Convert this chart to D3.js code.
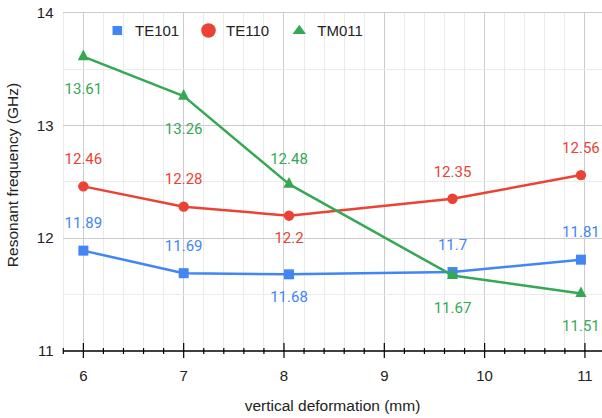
<!DOCTYPE html>
<html><head><meta charset="utf-8">
<script src="https://cdn.jsdelivr.net/npm/d3@7"></script>
<style>body{margin:0;background:#fff}svg{display:block}</style>
</head><body>
<svg id="c" width="602" height="418"></svg>
<script>
const xValues = [6, 7, 8.05, 9.68, 10.96];
const seriesNames = ["TE101", "TE110", "TM011"];
const te101 = [11.89, 11.69, 11.68, 11.70, 11.81];
const te110 = [12.46, 12.28, 12.20, 12.35, 12.56];
const tm011 = [13.61, 13.26, 12.48, 11.67, 11.51];
const xTicks = [6, 7, 8, 9, 10, 11];
const yTicks = [11, 12, 13, 14];
const xTitle = "vertical deformation (mm)";
const yTitle = "Resonant frequency (GHz)";
// label placement (above / below the point)
const labelPlace = [
  ["a","a","b","a","a"],
  ["a","a","b","a","a"],
  ["b","b","a","b","b"]
];
const colors = ["#4285F4", "#EA4335", "#34A853"];
const shapes = ["square", "circle", "triangle"];
const seriesVals = [te101, te110, tm011];

const svg = d3.select("#c");
const x = d3.scaleLinear().domain([5.8, 11.2]).range([63.3, 605]);
const y = d3.scaleLinear().domain([11, 14]).range([351, 12.7]);
const axisFont = "'Liberation Sans', Arial, sans-serif";
const dataFont = "Roboto, 'Noto Sans', sans-serif";

// grid
const minorX = d3.range(58, 113, 2).map(v => v / 10);
const g = svg.append("g");
g.selectAll("line.vx").data(minorX).join("line")
  .attr("x1", d => x(d)).attr("x2", d => x(d)).attr("y1", y(14)).attr("y2", y(11))
  .attr("stroke", d => Math.abs(d - Math.round(d)) < 1e-6 ? "#cccccc" : "#ebebeb").attr("stroke-width", 1)
  .attr("shape-rendering", "crispEdges");
const hY = d3.range(11.5, 14.01, 0.5);
g.selectAll("line.hy").data(hY).join("line")
  .attr("x1", x(5.8)).attr("x2", 602).attr("y1", d => y(d)).attr("y2", d => y(d))
  .attr("stroke", d => Math.abs(d - Math.round(d)) < 1e-6 ? "#cccccc" : "#ebebeb").attr("stroke-width", 1)
  .attr("shape-rendering", "crispEdges");

// x axis
const ax = svg.append("g").attr("transform", `translate(0,${y(11)})`);
ax.append("line").attr("x1", x(5.8)).attr("x2", 602).attr("stroke", "#000").attr("stroke-width", 1.3);
ax.selectAll("line.t").data(minorX).join("line")
  .attr("x1", d => x(d)).attr("x2", d => x(d))
  .attr("y1", d => Math.abs(d - Math.round(d)) < 1e-6 ? -8 : -3)
  .attr("y2", d => Math.abs(d - Math.round(d)) < 1e-6 ? 7 : 3)
  .attr("stroke", "#000").attr("stroke-width", 1.2);
ax.selectAll("text").data(xTicks).join("text")
  .attr("x", d => x(d)).attr("y", 24.5).attr("dy", "0.35em")
  .attr("text-anchor", "middle").attr("font-family", axisFont).attr("font-size", 15).attr("fill", "#222")
  .text(d => d);

// y tick labels
svg.append("g").selectAll("text").data(yTicks).join("text")
  .attr("x", 53.5).attr("y", d => y(d)).attr("dy", "0.35em")
  .attr("text-anchor", "end").attr("font-family", axisFont).attr("font-size", 15).attr("fill", "#222")
  .text(d => d);

// titles
svg.append("text").attr("x", 332.5).attr("y", 406).attr("dy", "0.35em").attr("text-anchor", "middle")
  .attr("font-family", axisFont).attr("font-size", 15.5).attr("fill", "#222").text(xTitle);
svg.append("text").attr("transform", `translate(12.5,175) rotate(-90)`).attr("dy", "0.35em")
  .attr("text-anchor", "middle").attr("font-family", axisFont).attr("font-size", 15.5).attr("fill", "#222").text(yTitle);

function markerPath(shape, s) {
  if (shape === "square") return `M${-5*s},${-5*s}h${10*s}v${10*s}h${-10*s}Z`;
  if (shape === "circle") return d3.symbol(d3.symbolCircle, Math.PI * 5.2 * 5.2 * s * s)();
  return `M0,${-7.1*s}L${5.6*s},${3.6*s}L${-5.6*s},${3.6*s}Z`;
}

// series
const line = d3.line().x(d => x(d[0])).y(d => y(d[1]));
seriesVals.forEach((vals, i) => {
  const pts = xValues.map((xv, j) => [xv, vals[j]]);
  svg.append("path").datum(pts).attr("d", line).attr("fill", "none")
    .attr("stroke", colors[i]).attr("stroke-width", 2.5).attr("stroke-linejoin", "round");
  svg.append("g").selectAll("path").data(pts).join("path")
    .attr("transform", d => `translate(${x(d[0])},${y(d[1])})`)
    .attr("d", markerPath(shapes[i], 1)).attr("fill", colors[i]);
});
// data labels
const aboveOff = {square: 27.5, circle: 27.5, triangle: 25};
const belowOff = {square: 22.5, circle: 22.5, triangle: 32.5};
seriesVals.forEach((vals, i) => {
  svg.append("g").selectAll("text").data(vals).join("text")
    .attr("x", (d, j) => x(xValues[j]))
    .attr("y", (d, j) => labelPlace[i][j] === "a" ? y(d) - aboveOff[shapes[i]] : y(d) + belowOff[shapes[i]])
    .attr("dy", "0.35em").attr("text-anchor", "middle")
    .attr("font-family", dataFont).attr("font-size", 15).attr("fill", colors[i])
    .text(d => String(+d.toFixed(2)));
});

// legend
const legX = [117.3, 208.5, 299.3];
const legTextX = [135, 226, 317.3];
const legY = 30.5;
seriesNames.forEach((n, i) => {
  let p;
  if (shapes[i] === "square") p = `M-4.8,-4.5h9.6v9h-9.6Z`;
  else if (shapes[i] === "circle") p = d3.symbol(d3.symbolCircle, Math.PI * 7.3 * 7.3)();
  else p = `M0,-5.8L6.7,3.5L-6.7,3.5Z`;
  svg.append("path").attr("transform", `translate(${legX[i]},${legY})`).attr("d", p).attr("fill", colors[i]);
  svg.append("text").attr("x", legTextX[i]).attr("y", legY).attr("dy", "0.35em")
    .attr("font-family", axisFont).attr("font-size", 15).attr("fill", "#222").text(n);
});
</script>
</body></html>
